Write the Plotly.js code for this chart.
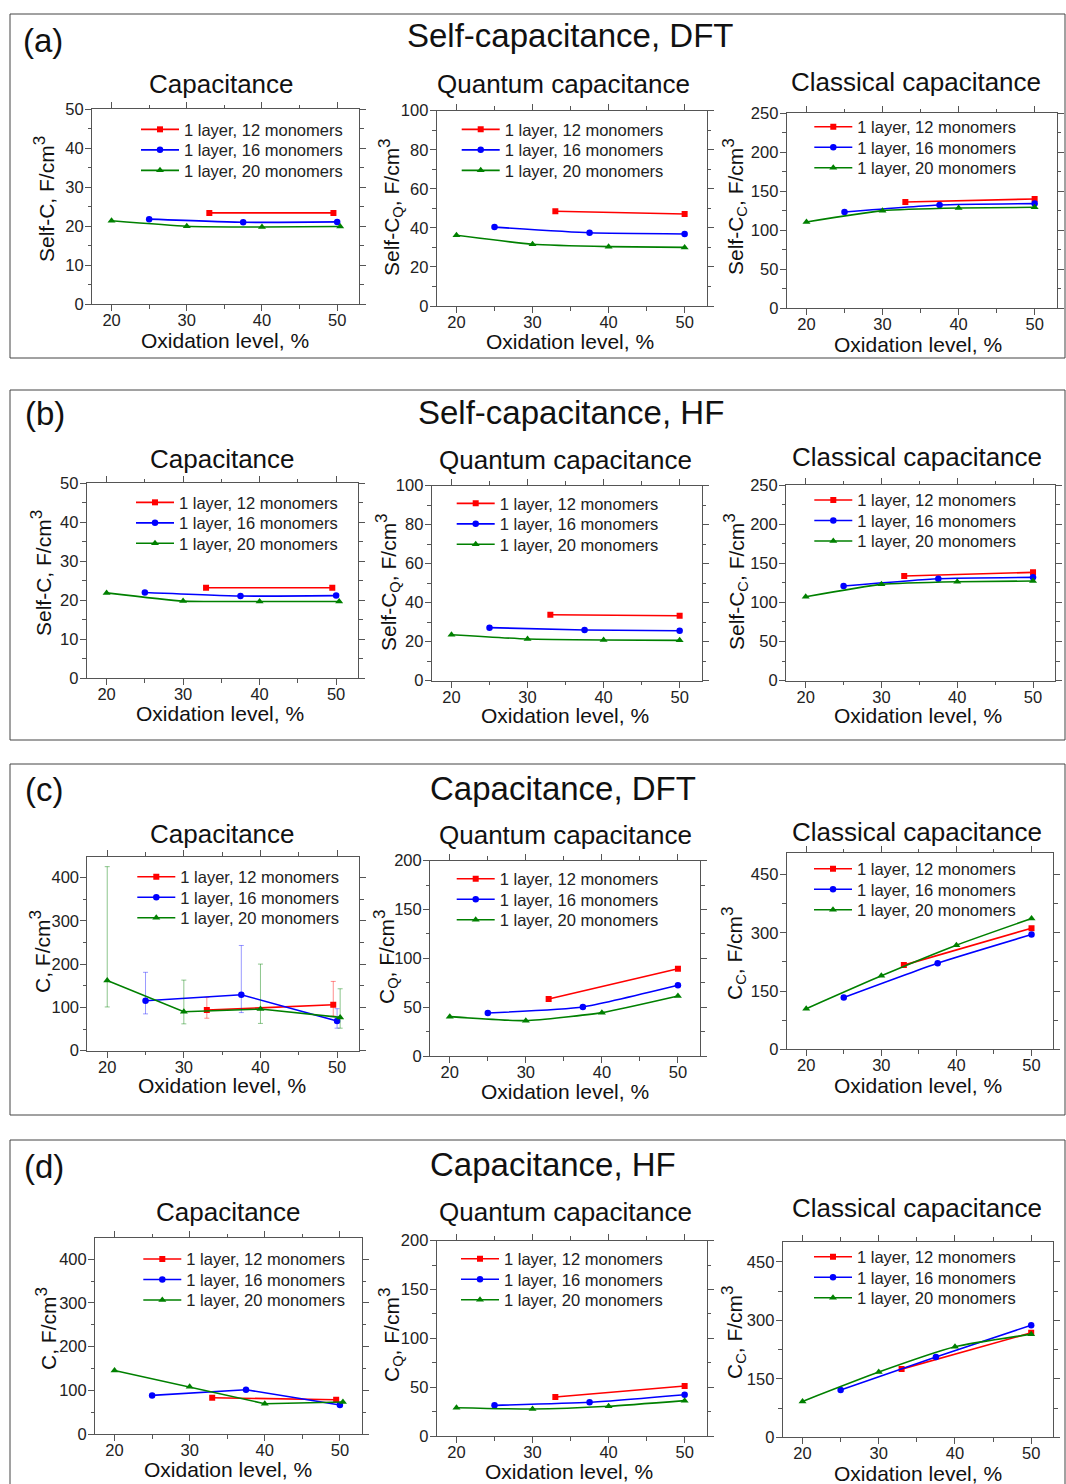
<!DOCTYPE html>
<html><head><meta charset="utf-8">
<script src="https://cdn.plot.ly/plotly-3.0.1.min.js"></script>
<style>body{margin:0;background:#fff}#chart{width:1066px;height:1484px}</style>
</head><body><div id="chart"></div>
<script>
// ---------------- DATA ----------------
const seriesNames = ['1 layer, 12 monomers', '1 layer, 16 monomers', '1 layer, 20 monomers'];
// oxidation levels (%)
const x12 = [33, 50];
const x16 = [25, 37.5, 50];
const x20 = [20, 30, 40, 50];
// slightly offset x used in the "Capacitance" plots
const x12c = [33, 49.5];
const x20c = [20, 30, 40, 50.4];

// (a) Self-capacitance, DFT
const aC12 = [23.4, 23.4];
const aC16 = [21.8, 21.0, 21.1];
const aC20 = [21.4, 20.0, 19.8, 19.9];
const aQ12 = [48.5, 47.1];
const aQ16 = [40.4, 37.5, 36.9];
const aQ20 = [36.2, 31.6, 30.4, 30.0];
const aK12 = [136.3, 140.2];
const aK16 = [123.5, 132.5, 134.2];
const aK20 = [110.7, 125.2, 128.6, 129.5];

// (b) Self-capacitance, HF
const bC12 = [23.2, 23.2];
const bC16 = [22.0, 21.1, 21.2];
const bC20 = [21.9, 19.8, 19.7, 19.7];
const bQ12 = [33.8, 33.3];
const bQ16 = [27.2, 26.0, 25.6];
const bQ20 = [23.6, 21.4, 20.9, 20.7];
const bK12 = [133.7, 138.4];
const bK16 = [121.0, 130.3, 132.0];
const bK20 = [107.3, 123.1, 126.5, 127.3];

// (c) Capacitance, DFT
const cC12 = [93.8, 106.2];
const cC16 = [115.4, 129.2, 68.5];
const cC20 = [162.3, 90.0, 96.2, 76.9];
const cC12hi = [123, 160];
const cC12lo = [75, 80];
const cC16hi = [181, 243, 97];
const cC16lo = [85, 88, 52];
const cC20hi = [425, 163, 200, 143];
const cC20lo = [101, 62, 63, 52];
const cQ12 = [58.4, 89.4];
const cQ16 = [44.0, 50.2, 72.4];
const cQ20 = [40.3, 36.2, 44.4, 61.4];
const cK12 = [216.9, 312.0];
const cK16 = [133.7, 222.0, 295.7];
const cK20 = [104.6, 189.4, 268.3, 336.9];

// (d) Capacitance, HF
const dC12 = [83.0, 78.5];
const dC16 = [88.4, 101.3, 66.3];
const dC20 = [145.5, 108.2, 69.3, 73.1];
const dQ12 = [39.9, 51.2];
const dQ16 = [31.4, 34.5, 42.3];
const dQ20 = [29.0, 27.6, 30.4, 36.2];
const dK12 = [175.0, 268.1];
const dK16 = [121.3, 205.8, 287.8];
const dK20 = [92.2, 167.4, 232.3, 264.7];

const panelLetters = ['(a)', '(b)', '(c)', '(d)'];
const panelTitles = ['Self-capacitance, DFT', 'Self-capacitance, HF', 'Capacitance, DFT', 'Capacitance, HF'];
const subTitles = ['Capacitance', 'Quantum capacitance', 'Classical capacitance'];
const xTitle = 'Oxidation level, %';

// ---------------- LAYOUT CONFIG ----------------
const W = 1066, H = 1484;
const FONT = 'Arial, "Liberation Sans", sans-serif';
const colors = ['#ff0000', '#0000ff', '#008000'];
const errColors = ['rgba(255,0,0,0.45)', 'rgba(0,0,255,0.4)', 'rgba(0,128,0,0.45)'];
const symbols = ['square', 'circle', 'triangle-up'];
const msizes = [6, 6.5, 7];
const SUP3 = '<sup><span style="font-size:17px">3</span></sup>';

const subplots = [
  // panel a
  {dom:[92,359,109,304.3], yr:[0,50], dt:10, mdt:5, xs:[x12c,x16,x20c], ys:[aC12,aC16,aC20], yt:'Self-C, F/cm', ytp:[44,199], xtp:[225,340], stp:[221,84], lg:[141,129.3], spline:true},
  {dom:[436.7,706.7,110.7,306], yr:[0,100], dt:20, mdt:10, xs:[x12,x16,x20], ys:[aQ12,aQ16,aQ20], yt:'Self-C<sub>Q</sub>, F/cm', ytp:[391,207], xtp:[570,342], stp:[563,84], lg:[461.7,129.3], spline:true},
  {dom:[786.7,1056.7,113.3,308.3], yr:[0,250], dt:50, mdt:25, xs:[x12,x16,x20], ys:[aK12,aK16,aK20], yt:'Self-C<sub>C</sub>, F/cm', ytp:[735,207], xtp:[918,345], stp:[916,82], lg:[814.3,126.7], spline:true},
  // panel b
  {dom:[86.7,358.3,483.3,678.3], yr:[0,50], dt:10, mdt:5, xs:[x12c,x16,x20c], ys:[bC12,bC16,bC20], yt:'Self-C, F/cm', ytp:[41,573], xtp:[220,713], stp:[222,459], lg:[136,502.3], spline:true},
  {dom:[431.7,701.7,485.7,680.7], yr:[0,100], dt:20, mdt:10, xs:[x12,x16,x20], ys:[bQ12,bQ16,bQ20], yt:'Self-C<sub>Q</sub>, F/cm', ytp:[387,582], xtp:[565,715], stp:[565,460], lg:[456.7,503.3], spline:true},
  {dom:[786,1055,485,680.7], yr:[0,250], dt:50, mdt:25, xs:[x12,x16,x20], ys:[bK12,bK16,bK20], yt:'Self-C<sub>C</sub>, F/cm', ytp:[735,582], xtp:[918,715], stp:[917,457], lg:[814.3,500], spline:true},
  // panel c
  {dom:[87.3,359.3,856.7,1050.7], yr:[0,448], dt:100, mdt:50, xs:[x12c,x16,x20c], ys:[cC12,cC16,cC20], hi:[cC12hi,cC16hi,cC20hi], lo:[cC12lo,cC16lo,cC20lo], yt:'C, F/cm', ytp:[40,952], xtp:[222,1085], stp:[222,834], lg:[137.3,876.7], spline:false},
  {dom:[430,700,860.7,1056], yr:[0,200], dt:50, mdt:25, xs:[x12,x16,x20], ys:[cQ12,cQ16,cQ20], yt:'C<sub>Q</sub>, F/cm', ytp:[385,957], xtp:[565,1091], stp:[565,835], lg:[456.7,878.7], spline:true},
  {dom:[786.7,1053.3,853.3,1049.3], yr:[0,505], dt:150, mdt:75, xs:[x12,x16,x20], ys:[cK12,cK16,cK20], yt:'C<sub>C</sub>, F/cm', ytp:[733,953], xtp:[918,1085], stp:[917,832], lg:[814,868.7], spline:true},
  // panel d
  {dom:[95,361.7,1238.3,1434], yr:[0,448], dt:100, mdt:50, xs:[x12c,x16,x20c], ys:[dC12,dC16,dC20], yt:'C, F/cm', ytp:[46,1329], xtp:[228,1469], stp:[228,1212], lg:[143.3,1259], spline:false},
  {dom:[436.7,706.7,1240.7,1436], yr:[0,200], dt:50, mdt:25, xs:[x12,x16,x20], ys:[dQ12,dQ16,dQ20], yt:'C<sub>Q</sub>, F/cm', ytp:[390,1335], xtp:[569,1471], stp:[565,1212], lg:[461,1258.7], spline:true},
  {dom:[782.7,1053.3,1241.7,1437.3], yr:[0,502], dt:150, mdt:75, xs:[x12,x16,x20], ys:[dK12,dK16,dK20], yt:'C<sub>C</sub>, F/cm', ytp:[733,1332], xtp:[918,1473], stp:[917,1208], lg:[814,1256.7], spline:true}
];

const panelBoxes = [[10,14,1065,358],[10,390,1065,740],[10,764,1065,1115],[10,1140,1065,1490]];
const letterPos = [[43,40],[45,413],[44,789],[44,1166]];
const titlePos = [[570,36],[571,412],[563,788],[553,1164]];

const px = v => v / W;
const py = v => 1 - v / H;

const traces = [];
const layout = {
  width: W, height: H,
  margin: {l:0, r:0, t:0, b:0},
  paper_bgcolor: '#ffffff', plot_bgcolor: '#ffffff',
  font: {family: FONT, color: '#1a1a1a'},
  showlegend: true,
  annotations: [], shapes: []
};

const axisCommon = {
  showline: true, linecolor: '#555', linewidth: 1, mirror: 'ticks',
  ticks: 'outside', ticklen: 6, tickwidth: 1, tickcolor: '#555',
  showgrid: false, zeroline: false, fixedrange: true,
  tickfont: {family: FONT, size: 16.5, color: '#222'}
};

subplots.forEach((s, i) => {
  const n = i + 1;
  const xa = 'xaxis' + (n === 1 ? '' : n);
  const ya = 'yaxis' + (n === 1 ? '' : n);
  const xr = 'x' + (n === 1 ? '' : n);
  const yr = 'y' + (n === 1 ? '' : n);
  layout[xa] = Object.assign({}, axisCommon, {
    domain: [px(s.dom[0]), px(s.dom[1])], anchor: yr,
    range: [17.4, 52.9], tick0: 20, dtick: 10, ticklabelstandoff: -5,
    minor: {ticks: 'outside', ticklen: 3.5, tickcolor: '#555', dtick: 5, tick0: 20, showgrid: false}
  });
  layout[ya] = Object.assign({}, axisCommon, {
    domain: [py(s.dom[3]), py(s.dom[2])], anchor: xr,
    range: s.yr, tick0: 0, dtick: s.dt, ticklabelstandoff: -2,
    minor: {ticks: 'outside', ticklen: 3.5, tickcolor: '#555', dtick: s.mdt, tick0: 0, showgrid: false}
  });

  for (let k = 0; k < 3; k++) {
    const ln = i * 3 + k + 1;
    const lname = ln === 1 ? 'legend' : 'legend' + ln;
    const tr = {
      type: 'scatter', mode: 'lines+markers', name: seriesNames[k],
      x: s.xs[k], y: s.ys[k], xaxis: xr, yaxis: yr, legend: lname,
      line: {color: colors[k], width: 1.6, shape: s.spline ? 'spline' : 'linear', smoothing: 0.5},
      marker: {color: colors[k], symbol: symbols[k], size: msizes[k]},
      hoverinfo: 'x+y'
    };
    if (s.hi) {
      const y = s.ys[k];
      tr.error_y = {
        type: 'data', symmetric: false,
        array: s.hi[k].map((v, j) => v - y[j]),
        arrayminus: s.lo[k].map((v, j) => y[j] - v),
        color: errColors[k], thickness: 1, width: 2.5
      };
    }
    traces.push(tr);
    const rowY = s.lg[1] + k * 20.5;
    layout[lname] = {
      x: px(s.lg[0] - 5), y: py(rowY - 17.2), xanchor: 'left', yanchor: 'top',
      xref: 'paper', yref: 'paper',
      bgcolor: 'rgba(0,0,0,0)', borderwidth: 0, itemwidth: 38,
      font: {family: FONT, size: 16.5, color: '#222'}
    };
  }

  // titles as annotations
  layout.annotations.push({
    text: subTitles[i % 3], x: px(s.stp[0]), y: py(s.stp[1]), xref: 'paper', yref: 'paper',
    xanchor: 'center', yanchor: 'middle', showarrow: false, font: {family: FONT, size: 26, color: '#111'}
  });
  layout.annotations.push({
    text: xTitle, x: px(s.xtp[0]), y: py(s.xtp[1]), xref: 'paper', yref: 'paper',
    xanchor: 'center', yanchor: 'middle', showarrow: false, font: {family: FONT, size: 21, color: '#111'}
  });
  layout.annotations.push({
    text: s.yt + SUP3, x: px(s.ytp[0]), y: py(s.ytp[1]), xref: 'paper', yref: 'paper', textangle: -90,
    xanchor: 'center', yanchor: 'middle', showarrow: false, font: {family: FONT, size: 21, color: '#111'}
  });
});

for (let p = 0; p < 4; p++) {
  const b = panelBoxes[p];
  layout.shapes.push({type: 'rect', xref: 'paper', yref: 'paper', x0: px(b[0]), x1: px(b[2]), y0: py(b[1]), y1: py(b[3]),
    line: {color: '#444', width: 1}, fillcolor: 'rgba(0,0,0,0)', layer: 'below'});
  layout.annotations.push({text: panelLetters[p], x: px(letterPos[p][0]), y: py(letterPos[p][1]), xref: 'paper', yref: 'paper',
    xanchor: 'center', yanchor: 'middle', showarrow: false, font: {family: FONT, size: 33, color: '#111'}});
  layout.annotations.push({text: panelTitles[p], x: px(titlePos[p][0]), y: py(titlePos[p][1]), xref: 'paper', yref: 'paper',
    xanchor: 'center', yanchor: 'middle', showarrow: false, font: {family: FONT, size: 33, color: '#111'}});
}

Plotly.newPlot('chart', traces, layout, {displayModeBar: false, staticPlot: true});
</script>
</body></html>
